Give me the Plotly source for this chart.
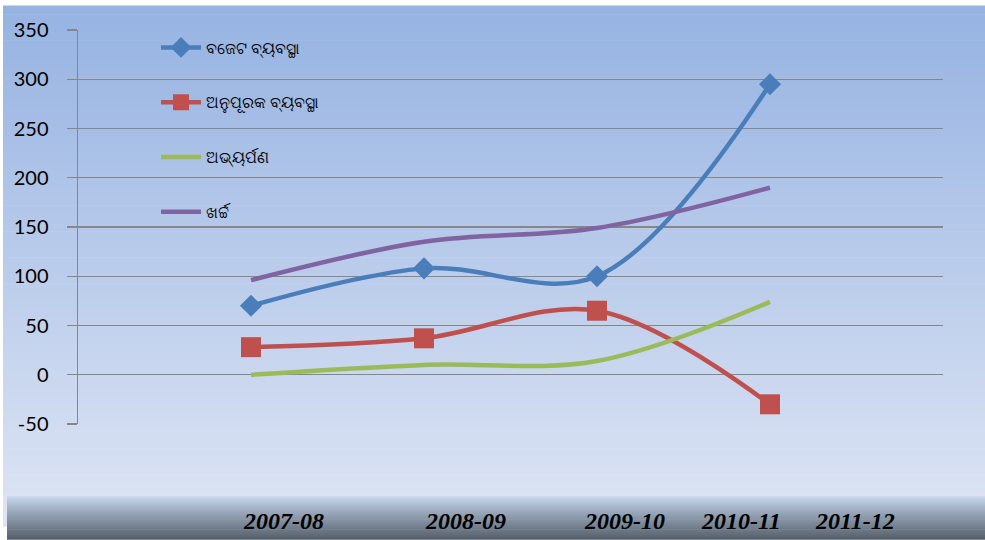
import plotly.graph_objects as go

# ---------------- data ----------------
categories = ["2007-08", "2008-09", "2009-10", "2010-11", "2011-12"]
series_names = ["ବଜେଟ ବ୍ୟବସ୍ଥା", "ଅନୁପୂରକ ବ୍ୟବସ୍ଥା", "ଅଭ୍ୟର୍ପଣ", "ଖର୍ଚ୍ଚ"]
budget = [70, 108, 100, 295]
supplementary = [28, 37, 65, -30]
surrender = [0, 10, 14, 74]
expenditure = [96, 135, 149, 190]
y_ticks = [-50, 0, 50, 100, 150, 200, 250, 300, 350]

W, H = 985, 540
L, R, T, B = 78, 943, 29.5, 424.5

def px(x):
    return (x - L) / (R - L)

def py(y):
    return (B - y) / (B - T)

def lerp(c1, c2, t):
    return "rgb(%d,%d,%d)" % tuple(round(a + (b - a) * t) for a, b in zip(c1, c2))

shapes = []
# main background gradient
top_c, bot_c = (150, 179, 226), (222, 229, 244)
n = 60
y0, y1 = 5, 527
for i in range(n):
    a = y0 + (y1 - y0) * i / n
    b = y0 + (y1 - y0) * (i + 1) / n + 0.6
    shapes.append(dict(type="rect", xref="paper", yref="paper", layer="below",
                       x0=px(3), x1=px(W), y0=py(a), y1=py(b),
                       fillcolor=lerp(top_c, bot_c, i / (n - 1)), line_width=0))
# bottom band gradient
band_top, band_bot = (198, 215, 239), (88, 98, 110)
n2 = 30
for i in range(n2):
    a = 497 + 43 * i / n2
    b = 497 + 43 * (i + 1) / n2 + 0.6
    shapes.append(dict(type="rect", xref="paper", yref="paper", layer="below",
                       x0=px(7), x1=px(W), y0=py(a), y1=py(b),
                       fillcolor=lerp(band_top, band_bot, (i / (n2 - 1)) ** 0.9), line_width=0))

xs = [1, 2, 3, 4]
fig = go.Figure()
fig.add_trace(go.Scatter(x=xs, y=budget, name=series_names[0], mode="lines+markers",
                         line=dict(color="#4a7ebb", width=4.5, shape="spline"),
                         marker=dict(symbol="diamond", size=17, color="#4a7ebb")))
fig.add_trace(go.Scatter(x=xs, y=supplementary, name=series_names[1], mode="lines+markers",
                         line=dict(color="#c0504d", width=4.5, shape="spline"),
                         marker=dict(symbol="square", size=20, color="#c0504d")))
fig.add_trace(go.Scatter(x=xs, y=surrender, name=series_names[2], mode="lines",
                         line=dict(color="#9bbb59", width=4.5, shape="spline")))
fig.add_trace(go.Scatter(x=xs, y=expenditure, name=series_names[3], mode="lines",
                         line=dict(color="#8064a2", width=4.5, shape="spline")))
for i, tr in enumerate(fig.data):
    tr.legendgroup = "g%d" % i

label_x = [283, 465, 624, 741, 855]
annotations = [dict(text="<b><i>%s</i></b>" % c, xref="paper", yref="paper",
                    x=px(lx), y=py(522), xanchor="center", yanchor="middle",
                    showarrow=False,
                    font=dict(family="Liberation Serif", size=24, color="black"))
               for c, lx in zip(categories, label_x)]

fig.update_layout(
    width=W, height=H,
    margin=dict(l=L, r=W - R, t=T, b=H - B, pad=0),
    paper_bgcolor="white", plot_bgcolor="rgba(0,0,0,0)",
    shapes=shapes, annotations=annotations,
    showlegend=True,
    legend=dict(x=px(156), y=py(30), xanchor="left", yanchor="top",
                bgcolor="rgba(0,0,0,0)", tracegroupgap=31, traceorder="grouped",
                font=dict(family="Noto Sans", size=16, color="black"),
                itemwidth=40),
    xaxis=dict(range=[0, 5], showgrid=False, zeroline=False, showticklabels=False,
               ticks="", showline=False, fixedrange=True),
    yaxis=dict(range=[-50, 350], tickvals=y_ticks, ticktext=[str(v) for v in y_ticks],
               showgrid=True, gridcolor="#878787", gridwidth=1.3,
               zeroline=False, showline=True, linecolor="#878787", linewidth=1.5,
               ticks="outside", ticklen=10, tickcolor="#878787", tickwidth=1.3,
               ticklabelstandoff=14, fixedrange=True,
               tickfont=dict(family="Lato", size=20, color="#000000")),
)

fig.write_html("out.html", config={"displayModeBar": False, "staticPlot": True})

# remove the default 8px body margin so the figure sits at the page's top-left corner
with open("out.html", "r", encoding="utf-8") as f:
    html = f.read()
html = html.replace("<head>", "<head><style>html,body{margin:0;padding:0;overflow:hidden;}</style>", 1)
with open("out.html", "w", encoding="utf-8") as f:
    f.write(html)
